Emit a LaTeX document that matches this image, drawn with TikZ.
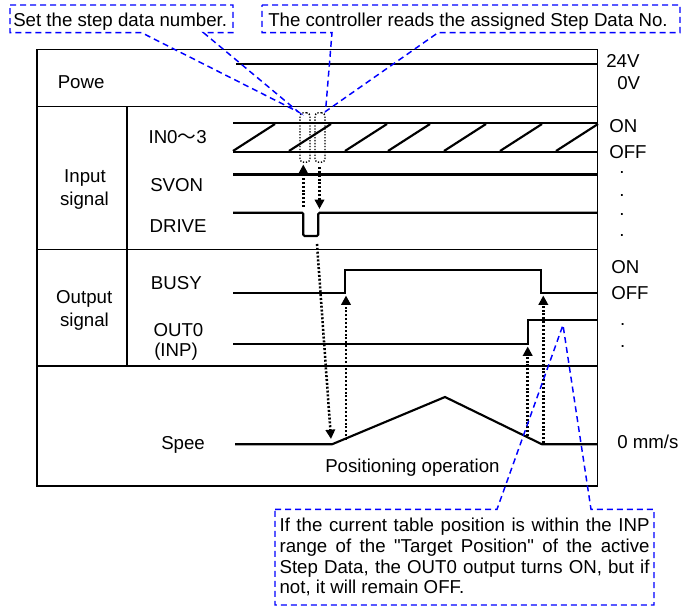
\documentclass[tikz,border=0pt]{standalone}
\usepackage{fontspec}
\setmainfont{Liberation Sans}[Ligatures=TeXOff]
\newfontfamily\cjkfont{Noto Sans CJK JP}
\usetikzlibrary{arrows.meta}
\definecolor{cblue}{RGB}{0,0,255}
\begin{document}
\begin{tikzpicture}[x=0.75pt,y=-0.75pt,
  font=\fontsize{14}{16}\selectfont,
  frame/.style={line width=1.1pt},
  sig/.style={line width=1.6pt},
  lbl/.style={inner sep=0pt, anchor=base west},
  clbl/.style={inner sep=0pt, anchor=base},
  dotc/.style={inner sep=0pt, anchor=base},
  darr/.style={line width=1.9pt, dash pattern=on 1.5pt off 1.4pt, -{Triangle[length=7pt,width=7pt]}},
  callout/.style={draw=cblue, line width=1.1pt, dash pattern=on 4.5pt off 3pt},
  dbox/.style={draw, line width=1pt, dash pattern=on 1pt off 1.2pt, rounded corners=2.5pt, inner sep=0pt, minimum width=7.5pt, minimum height=37pt}
]
\useasboundingbox (0,0) rectangle (690,606);

% frame and dividers
\draw[frame] (37,49.5) rectangle (597.5,486);
\draw[frame] (37,106.5) -- (597.5,106.5);
\draw[frame] (37,249.5) -- (597.5,249.5);
\draw[frame] (37,366) -- (597.5,366);
\draw[frame] (127,106.5) -- (127,366);

% power
\draw[sig] (236,64) -- (597.5,64);
\node[lbl] (powe) at (57.5,89) {Powe};
\node[lbl] (v24) at (606,68) {24V};
\node[lbl] (v0) at (617,90) {0V};

% input signals
\node[lbl] (in03) at (148.3,143.3) {IN0{\cjkfont 〜}3};
\node[lbl] (svon) at (150,191.7) {SVON};
\node[lbl] (drive) at (149.3,232.7) {DRIVE};
\node[clbl] (inA) at (85,182.7) {Input};
\node[clbl] (inB) at (84.5,206) {signal};
\draw[sig] (233,123) -- (597.5,123);
\draw[sig] (233,152) -- (597.5,152);
\foreach \s in {233,289,345,388,444,500,556}
  \draw[sig] (\s,151) -- (\s+42,124);
\draw[sig] (233,174.5) -- (597.5,174.5);
\draw[sig, rounded corners=1pt] (233,212.7) -- (303.3,212.7) -- (303.3,236) -- (318.3,236) -- (318.3,212.7) -- (597.5,212.7);
\node[dbox] (boxA) at (305,137.5) {};
\node[dbox] (boxB) at (320,137.5) {};

% output signals
\node[clbl] (outA) at (84.2,303.3) {Output};
\node[clbl] (outB) at (84.5,327) {signal};
\node[lbl] (busy) at (150.7,289.3) {BUSY};
\node[lbl] (out0) at (153.3,336.7) {OUT0};
\node[lbl] (inpl) at (154,356.7) {(INP)};
\draw[sig] (233,293.3) -- (345,293.3) -- (345,270.3) -- (541,270.3) -- (541,293.3) -- (597.5,293.3);
\draw[sig] (233,344.3) -- (527.7,344.3) -- (527.7,320.3) -- (597.5,320.3);

% right labels
\node[lbl] (on1) at (609,132.3) {ON};
\node[lbl] (off1) at (609,158.3) {OFF};
\node[dotc] (d1) at (622,174) {.};
\node[dotc] (d2) at (622,197) {.};
\node[dotc] (d3) at (622,215.6) {.};
\node[dotc] (d4) at (622,236.3) {.};
\node[lbl] (on2) at (611,273.3) {ON};
\node[lbl] (off2) at (611,299.7) {OFF};
\node[dotc] (d5) at (622.7,325.3) {.};
\node[dotc] (d6) at (622.7,347.3) {.};

% speed
\node[lbl] (spee) at (161,449.3) {Spee};
\node[lbl] (zero) at (617,448) {0 mm/s};
\node[lbl] (posop) at (325,472.7) {Positioning operation};
\draw[sig] (235,444.3) -- (332,444.3) -- (445,397) -- (542,444.3) -- (597.5,444.3);

% dotted arrows
\coordinate (a1s) at (303.3,207);  \coordinate (a1e) at (303.3,164.5);
\coordinate (a2s) at (319.5,167);  \coordinate (a2e) at (319.5,209);
\coordinate (a3s) at (317,244);    \coordinate (a3e) at (331,439);
\coordinate (a4s) at (346,440);    \coordinate (a4e) at (346,295.5);
\coordinate (a5s) at (527.7,436);  \coordinate (a5e) at (527.7,346.5);
\coordinate (a6s) at (543.3,443);  \coordinate (a6e) at (543.3,295.5);
\draw[darr] (a1s) -- (a1e);
\draw[darr] (a2s) -- (a2e);
\draw[darr] (a3s) -- (a3e);
\draw[darr] (a4s) -- (a4e);
\draw[darr] (a5s) -- (a5e);
\draw[darr] (a6s) -- (a6e);

% callouts
\coordinate (p1) at (298.5,112);
\coordinate (p2) at (325.5,111.5);
\coordinate (p3) at (563,325);
\draw[callout] (10,5) -- (233,5) -- (233,32.7) -- (203.5,32.7) -- (p1) -- (141.6,32.7) -- (10,32.7) -- cycle;
\draw[callout] (262,5) -- (680,5) -- (680,32.7) -- (438,32.7) -- (p2) -- (332,32.7) -- (262,32.7) -- cycle;
\draw[callout] (275,509.3) -- (497,509.3) -- (p3) -- (591,509.3) -- (654,509.3) -- (654,605) -- (275,605) -- cycle;
\node[lbl] (c1) at (13,26.7) {Set the step data number.};
\node[lbl] (c2) at (268,26.7) {The controller reads the assigned Step Data No.};
\node[lbl] (t1) at (279.3,531.7) {\makebox[277.5pt][s]{If the current table position is within the INP}};
\node[lbl] (t2) at (279.3,552.3) {\makebox[277.5pt][s]{range of the "Target Position" of the active}};
\node[lbl] (t3) at (279.3,573) {\makebox[277.5pt][s]{Step Data, the OUT0 output turns ON, but if}};
\node[lbl] (t4) at (279.3,593.6) {not, it will remain OFF.};
\end{tikzpicture}
\end{document}
